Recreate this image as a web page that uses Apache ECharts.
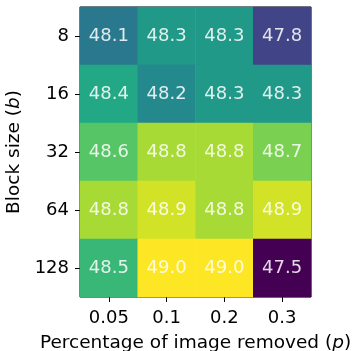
<!DOCTYPE html>
<html>
<head>
<meta charset="utf-8">
<script src="https://cdn.jsdelivr.net/npm/echarts@6/dist/echarts.min.js"></script>
<style>
  html, body { margin: 0; padding: 0; background: #fff; }
  #chart { width: 354px; height: 351px; }
</style>
</head>
<body>
<div id="chart"></div>
<script>
// Removal fraction (columns) and block size (rows)
const removedFractions = ['0.05', '0.1', '0.2', '0.3'];
const blockSizes = ['8', '16', '32', '64', '128'];

// Scores, one row per block size, one entry per removal fraction
const row8   = [48.1, 48.3, 48.3, 47.8];
const row16  = [48.4, 48.2, 48.3, 48.3];
const row32  = [48.6, 48.8, 48.8, 48.7];
const row64  = [48.8, 48.9, 48.8, 48.9];
const row128 = [48.5, 49.0, 49.0, 47.5];

const scoreRows = [row8, row16, row32, row64, row128];

// Viridis colour ramp
const viridis = ['#440154', '#482475', '#414487', '#355f8d', '#2a788e',
                 '#21918c', '#22a884', '#44bf70', '#7ad151', '#bddf26', '#fde725'];

const cells = [];
scoreRows.forEach((row, r) => {
  row.forEach((v, c) => cells.push([c, r, v]));
});

const font = 'DejaVu Sans';
const fs = 18;
const nameFs = 18.5;
const chart = echarts.init(document.getElementById('chart'), null, { renderer: 'canvas' });

chart.setOption({
  animation: false,
  grid: {
    left: 80, top: 7, width: 231, height: 290,
    containLabel: false,
    outerBoundsMode: 'none',
    show: true, borderColor: '#000', borderWidth: 1, backgroundColor: 'transparent'
  },
  xAxis: {
    type: 'category',
    data: removedFractions,
    axisLine: { show: false },
    axisTick: { show: true, alignWithLabel: true, length: 5, lineStyle: { color: '#000' } },
    axisLabel: { color: '#000', fontFamily: font, fontSize: fs, margin: 12 },
    splitLine: { show: false },
    name: 'Percentage of image removed ({i|p})',
    nameLocation: 'middle',
    nameGap: 37,
    nameTextStyle: {
      color: '#000', fontFamily: font, fontSize: nameFs,
      rich: { i: { fontStyle: 'italic', fontFamily: font, fontSize: nameFs, color: '#000' } }
    }
  },
  yAxis: {
    type: 'category',
    data: blockSizes,
    inverse: true,
    axisLine: { show: false },
    axisTick: { show: true, alignWithLabel: true, length: 5, lineStyle: { color: '#000' } },
    axisLabel: { color: '#000', fontFamily: font, fontSize: fs, margin: 11 },
    splitLine: { show: false },
    name: 'Block size ({i|b})',
    nameLocation: 'middle',
    nameGap: 54,
    nameTextStyle: {
      color: '#000', fontFamily: font, fontSize: nameFs,
      rich: { i: { fontStyle: 'italic', fontFamily: font, fontSize: nameFs, color: '#000' } }
    }
  },
  visualMap: {
    show: false,
    type: 'continuous',
    min: 47.5,
    max: 49.0,
    dimension: 2,
    inRange: { color: viridis }
  },
  series: [{
    type: 'heatmap',
    data: cells,
    label: {
      show: true,
      formatter: p => p.value[2].toFixed(1),
      color: 'rgba(255,255,255,0.85)',
      fontFamily: font,
      fontSize: fs
    },
    itemStyle: { borderWidth: 0 },
    emphasis: { disabled: true }
  }]
});
</script>
</body>
</html>
